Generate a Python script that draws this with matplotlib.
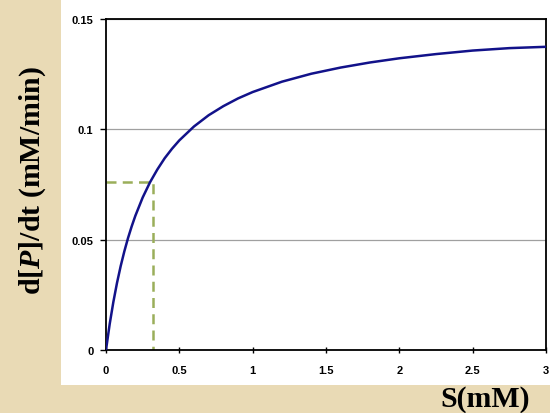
import matplotlib.pyplot as plt
from matplotlib.patches import Rectangle

plt.rcParams['mathtext.fontset'] = 'custom'
plt.rcParams['mathtext.bfit'] = 'Liberation Serif:bold:italic'
plt.rcParams['mathtext.rm'] = 'Liberation Serif'

# substrate concentration (mM) and rate
s_mm = [0, 0.025, 0.05, 0.075, 0.1, 0.125, 0.15, 0.175, 0.2, 0.25, 0.3,
        0.35, 0.4, 0.45, 0.5, 0.6, 0.7, 0.8, 0.9, 1.0, 1.2, 1.4, 1.6,
        1.8, 2.0, 2.25, 2.5, 2.75, 3.0]
rate = [0, 0.0117, 0.0217, 0.0304, 0.038, 0.0447, 0.0507, 0.056, 0.0608,
        0.0691, 0.076, 0.0818, 0.0869, 0.0912, 0.095, 0.1013, 0.1064,
        0.1105, 0.114, 0.1169, 0.1216, 0.1252, 0.128, 0.1303, 0.1322,
        0.1341, 0.1357, 0.1368, 0.1374]

# half-max marker
km = 0.32
half_v = 0.076

xticks = [0, 0.5, 1, 1.5, 2, 2.5, 3]
xticklabels = ['0', '0.5', '1', '1.5', '2', '2.5', '3']
yticks = [0, 0.05, 0.1, 0.15]
yticklabels = ['0', '0.05', '0.1', '0.15']

fig = plt.figure(figsize=(5.5, 4.14), dpi=100)
fig.patch.set_facecolor('#E9DAB5')
fig.add_artist(Rectangle((61 / 550, 28 / 414), 1 - 61 / 550, 1 - 28 / 414 - 1 / 414,
                         transform=fig.transFigure, facecolor='white',
                         edgecolor='none', zorder=0))

ax = fig.add_axes([106 / 550, 63 / 414, 440 / 550, 331 / 414])
ax.set_facecolor('white')

ax.plot(s_mm, rate, color='#12128A', linewidth=1.8, zorder=3)
ax.plot([0, km, km], [half_v, half_v, 0], color='#9AAE5A', linewidth=1.8,
        linestyle=(0, (4, 2.5)), zorder=2)

ax.set_xlim(0, 3)
ax.set_ylim(0, 0.15)
ax.set_xticks(xticks)
ax.set_xticklabels(xticklabels)
ax.set_yticks(yticks)
ax.set_yticklabels(yticklabels)
ax.grid(axis='y', color='#A0A0A0', linewidth=0.9)
ax.set_axisbelow(True)

for side in ax.spines.values():
    side.set_linewidth(1.3)
    side.set_color('black')

ax.tick_params(axis='x', direction='inout', length=5, width=1, pad=8)
ax.tick_params(axis='y', direction='out', length=4, width=1, pad=5)
for lab in ax.get_xticklabels() + ax.get_yticklabels():
    lab.set_fontfamily('Liberation Sans')
    lab.set_fontweight('bold')
    lab.set_fontsize(8)

fig.text(33 / 550, 1 - 181 / 414, r'd[$\boldsymbol{P}$]/dt (mM/min)', rotation=90,
         ha='center', va='center', fontsize=21.5, fontweight='bold',
         family='Liberation Serif')
fig.text(485 / 550, 1 - 400 / 414, 'S(mM)', ha='center', va='center',
         fontsize=21.5, fontweight='bold', family='Liberation Serif')

fig.savefig('out.png', dpi=100, facecolor=fig.get_facecolor())
